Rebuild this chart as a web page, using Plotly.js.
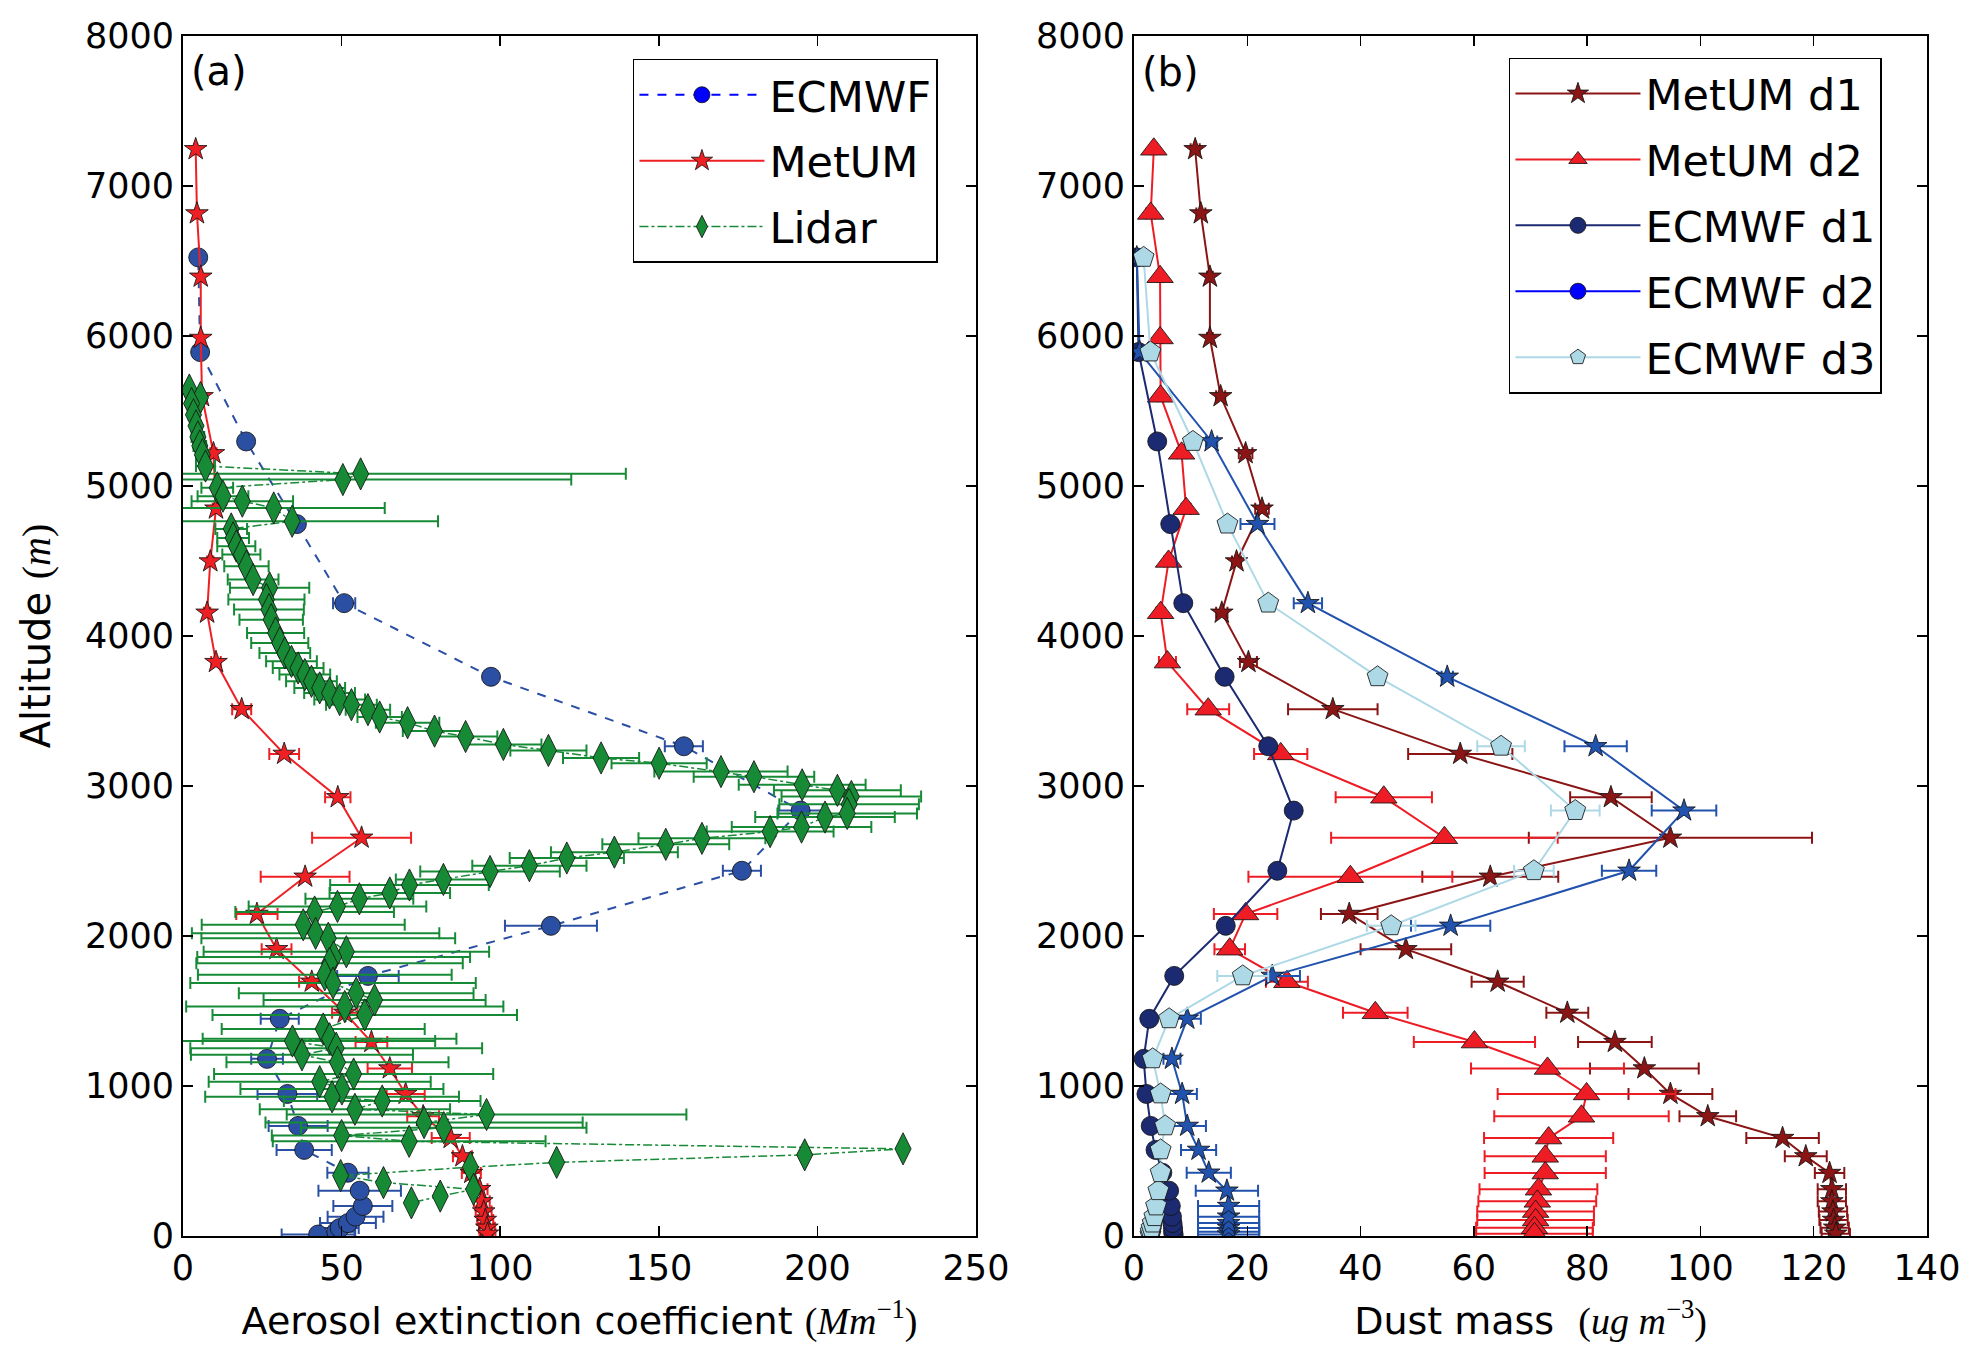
<!DOCTYPE html>
<html>
<head>
<meta charset="utf-8">
<script src="https://cdn.plot.ly/plotly-3.0.1.min.js"></script>
<style>body{margin:0;background:#fff}</style>
</head>
<body>
<div id="chart"></div>
<script>
// ---- shared model levels (m) ----
const metumAlt = [7245, 6817, 6395, 5987, 5598, 5218, 4849, 4497, 4155, 3826, 3512, 3214, 2925, 2655, 2395, 2147,
  1912, 1695, 1488, 1293, 1117, 947, 798, 653, 531, 420, 312, 231, 163, 107, 55, 15];
const ecmwfAlt = [10, 29, 53, 86, 129, 200, 302, 422, 574, 734, 947, 1181, 1448, 1734, 2068, 2435, 2836, 3265,
  3728, 4219, 4746, 5297, 5893, 6524];

// ---- (a) aerosol extinction coefficient (Mm-1) ----
const ecmwfExt = [42.6, 48.3, 49.4, 52.0, 54.4, 56.7, 55.7, 52.0, 38.2, 36.3, 32.9, 26.5, 30.5, 58.3, 116.0, 176.2,
  194.7, 157.9, 97.1, 50.8, 35.9, 19.9, 5.4, 4.8];
const ecmwfExtErr = [11.5, 6, 6, 8.8, 8.8, 9.3, 13, 6.5, 8.7, 9.3, 9.4, 5, 6, 9.7, 14.5, 6, 7, 6, 1.5, 3.5, 2, 1, 0.5, 0.5];

const metumExt = [4.0, 4.4, 5.6, 5.6, 6.0, 9.6, 10.4, 8.6, 7.6, 10.4, 18.5, 31.9, 48.8, 56.3, 38.5, 23.3,
  29.5, 40.6, 51.0, 59.4, 65.2, 70.2, 75.7, 84.4, 88.1, 90.9, 93.5, 94.2, 94.8, 95.3, 95.8, 96.0];
const metumExtErr = [0.5, 0.5, 0.5, 0.5, 0.5, 1, 1, 1, 1, 1.5, 3, 4.7, 4, 15.6, 14, 6.5,
  4.7, 4, 4, 5, 7, 6, 5, 6, 3, 3, 2.5, 2.5, 2.5, 2.5, 2.5, 2.5];

const lidarAlt = [5640, 5590, 5550, 5475, 5401, 5327, 5267, 5208, 5133, 5081, 5043, 4988, 4932, 4899, 4854, 4765,
  4714, 4654, 4599, 4543, 4465, 4376, 4321, 4243, 4176, 4109, 4020, 3954, 3887, 3831, 3787, 3743, 3698, 3654,
  3620, 3576, 3542, 3509, 3460, 3422, 3366, 3330, 3277, 3237, 3187, 3152, 3096, 3062, 3008, 2971, 2930, 2878,
  2817, 2793, 2726, 2696, 2651, 2611, 2559, 2520, 2469, 2430, 2377, 2340, 2287, 2248, 2197, 2160, 2075, 2018,
  1985, 1895, 1860, 1819, 1741, 1686, 1619, 1574, 1530, 1474, 1380, 1315, 1300, 1252, 1208, 1158, 1080, 1029,
  980, 928, 900, 845, 810, 756, 722, 670, 631, 581, 541, 491, 459, 403, 356, 311, 266, 221];
const lidarExt = [2.0, 5.5, 2.7, 3.3, 4.1, 4.7, 5.3, 6.1, 7.1, 56.0, 50.4, 10.8, 12.6, 18.7, 28.6, 34.4,
  15.2, 15.8, 16.8, 18.4, 20.0, 22.1, 27.3, 26.3, 27.1, 27.8, 29.2, 30.5, 32.1, 34.2, 36.3, 38.4, 40.5, 43.1,
  46.2, 49.4, 53.1, 58.3, 62.0, 70.8, 79.3, 89.1, 101.0, 115.2, 131.8, 150.1, 169.6, 180.0, 195.2, 206.3, 210.7, 210.0,
  209.4, 202.4, 195.0, 185.1, 163.6, 152.2, 136.0, 121.0, 109.2, 96.8, 82.1, 71.4, 65.2, 55.6, 48.7, 41.5, 37.9, 41.8,
  45.8, 51.5, 47.5, 46.2, 44.7, 47.3, 54.6, 60.4, 51.0, 57.3, 44.2, 46.2, 34.5, 48.3, 37.5, 48.7, 53.8, 43.1,
  50.1, 47.0, 62.8, 54.2, 95.7, 76.0, 82.2, 50.0, 71.3, 227.0, 196.0, 117.8, 90.6, 49.7, 63.2, 91.6, 81.1, 72.0];
const lidarExtErr = [1, 1, 1, 1.5, 1.5, 2, 2, 2, 3, 83.6, 72, 5, 8, 16, 35, 46,
  5, 5, 6, 6, 7, 8, 12.5, 12, 11, 10, 9, 9, 8, 8, 8, 8, 8, 8,
  8, 8, 8, 7, 7, 10, 10, 10, 12, 12, 12, 15, 21, 19, 20, 20, 22, 22,
  22, 22, 22, 20, 20, 20, 20, 18, 18, 22, 15, 25, 19, 17, 28, 25, 32, 39,
  40, 45, 43, 42, 40, 45, 37, 35, 50, 48, 32, 40, 45, 46, 35, 35, 44, 35,
  32, 40, 31, 30, 63, 50, 45, 22, 43, 0, 0, 0, 0, 0, 0, 0, 0, 0];

// ---- (b) dust mass (ug m-3) ----
const metumD1 = [10.8, 11.8, 13.4, 13.4, 15.3, 19.7, 22.6, 18.1, 15.5, 20.2, 35.1, 57.6, 84.2, 94.7, 62.9, 38.0,
  48.0, 64.2, 76.5, 84.9, 90.1, 94.7, 101.3, 114.5, 118.6, 122.8, 123.2, 123.2, 123.4, 123.5, 123.7, 123.9];
const metumD1Err = [0.8, 0.8, 0.5, 0.5, 0.8, 1.2, 1.2, 0.8, 1, 1.5, 7.9, 9.2, 7.2, 25, 12, 5,
  8, 4.6, 3.7, 6.5, 9.6, 7.4, 5, 6.4, 3.7, 2.6, 2.5, 2.5, 2.5, 2.5, 2.5, 2.5];
const metumD2 = [3.5, 2.95, 4.6, 4.6, 4.7, 8.4, 9.2, 6.1, 4.7, 5.9, 13.1, 25.9, 44.1, 54.8, 38.2, 19.7,
  16.9, 27.0, 42.6, 60.1, 73.0, 79.9, 79.0, 73.2, 72.6, 72.6, 71.4, 71.2, 70.9, 70.9, 70.7, 70.7];
const metumD2Err = [0.5, 0.8, 0.5, 0.5, 0.5, 0.8, 0.8, 0.8, 0.8, 1.5, 3.7, 4.7, 8.5, 20, 18, 5.6,
  2.7, 3.7, 5.7, 10.7, 13.5, 15.7, 15.4, 11.4, 10.7, 10.7, 10.4, 10.4, 10.3, 10.3, 10.3, 10.3];
const ecmwfD1 = [7.0, 6.9, 6.9, 6.8, 6.7, 6.5, 6.2, 5.0, 3.8, 2.95, 2.2, 1.7, 2.7, 7.1, 16.2, 25.3,
  28.2, 23.7, 16.0, 8.7, 6.4, 4.1, 0.8, 0.5];
const ecmwfD1Err = ecmwfAlt.map(() => 0.4);
const ecmwfD2 = [16.7, 16.7, 16.7, 16.7, 16.7, 16.7, 16.4, 13.2, 11.4, 9.4, 8.5, 6.7, 9.4, 24.4, 55.9, 87.4,
  97.1, 81.5, 55.3, 30.7, 21.8, 13.7, 1.0, 0.5];
const ecmwfD2Err = [5.4, 5.4, 5.4, 5.4, 5.4, 5.4, 5.5, 3.9, 3.1, 3.3, 2.6, 1.5, 2.4, 4.9, 7, 4.8,
  5.7, 5.5, 1, 2.5, 3, 1, 0.3, 0.3];
const ecmwfD3 = [2.9, 2.95, 3.1, 3.3, 3.6, 3.9, 4.3, 4.7, 4.7, 5.5, 4.7, 3.3, 6.2, 19.2, 45.4, 70.6,
  77.9, 64.8, 43.0, 23.7, 16.5, 10.4, 2.9, 1.7];
const ecmwfD3Err = [0.3, 0.3, 0.3, 0.3, 0.3, 0.3, 0.4, 0.5, 0.5, 0.5, 0.5, 0.5, 1, 4.5, 4.3, 3.5,
  4.3, 4.2, 1, 1, 1, 1, 0.3, 0.3];

const EDGE = "rgba(20,20,20,0.85)";

function profile(name, x, y, err, opts) {
  return {
    type: "scatter",
    mode: "lines+markers",
    name: name,
    legendgroup: opts.group || name,
    x: x,
    y: y,
    xaxis: opts.panel === "b" ? "x2" : "x",
    yaxis: opts.panel === "b" ? "y2" : "y",
    legend: opts.panel === "b" ? "legend2" : "legend",
    showlegend: opts.showlegend !== false,
    line: { color: opts.color, width: opts.lineWidth || 2, dash: opts.dash || "solid" },
    marker: {
      symbol: opts.symbol,
      size: opts.size,
      color: opts.color,
      line: { color: EDGE, width: 1 },
    },
    error_x: { type: "data", array: err, color: opts.errColor || opts.color, thickness: 2, width: 6 },
  };
}

// legend-only stand-in (the legend marker differs from the plotted one)
function legendProxy(name, panel, color, symbol, size, dash) {
  return {
    type: "scatter",
    mode: "lines+markers",
    name: name,
    legendgroup: name,
    x: [null],
    y: [null],
    xaxis: panel === "b" ? "x2" : "x",
    yaxis: panel === "b" ? "y2" : "y",
    legend: panel === "b" ? "legend2" : "legend",
    line: { color: color, width: 2, dash: dash || "solid" },
    marker: { symbol: symbol, size: size, color: color, line: { color: EDGE, width: 1 } },
    hoverinfo: "skip",
  };
}

const traces = [
  legendProxy("ECMWF", "a", "#0000ff", "circle", 20, "dash"),
  profile("ECMWF", ecmwfExt, ecmwfAlt, ecmwfExtErr,
    { panel: "a", color: "#2b50a3", symbol: "circle", size: 19, dash: "dash", showlegend: false }),
  profile("MetUM", metumExt, metumAlt, metumExtErr,
    { panel: "a", color: "#ee2024", symbol: "star", size: 17 }),
  profile("Lidar", lidarExt, lidarAlt, lidarExtErr,
    { panel: "a", color: "#178a36", symbol: "diamond-tall", size: 23, dash: "dashdot", lineWidth: 1.5 }),

  profile("MetUM d1", metumD1, metumAlt, metumD1Err,
    { panel: "b", color: "#8b1414", symbol: "star", size: 17 }),
  profile("MetUM d2", metumD2, metumAlt, metumD2Err,
    { panel: "b", color: "#ee1c24", symbol: "triangle-up", size: 23 }),
  profile("ECMWF d1", ecmwfD1, ecmwfAlt, ecmwfD1Err,
    { panel: "b", color: "#1c2a72", symbol: "circle", size: 19 }),
  legendProxy("ECMWF d2", "b", "#0000ff", "circle", 20),
  profile("ECMWF d2", ecmwfD2, ecmwfAlt, ecmwfD2Err,
    { panel: "b", color: "#2152ad", symbol: "star", size: 17, showlegend: false }),
  profile("ECMWF d3", ecmwfD3, ecmwfAlt, ecmwfD3Err,
    { panel: "b", color: "#add8e6", symbol: "pentagon", size: 22 }),
];

const MATH = "font-family:'Liberation Serif'";

function axis(extra) {
  return Object.assign({
    showline: true,
    linecolor: "black",
    linewidth: 2,
    mirror: "allticks",
    ticks: "inside",
    ticklen: 10,
    tickwidth: 1.5,
    tickcolor: "black",
    showgrid: false,
    zeroline: false,
    tickfont: { size: 35 },
  }, extra);
}

const legendStyle = {
  bgcolor: "white",
  bordercolor: "black",
  borderwidth: 1.5,
  font: { size: 43 },
  itemwidth: 125,
  xanchor: "left",
  yanchor: "top",
  tracegroupgap: 7,
};

const layout = {
  width: 1980,
  height: 1363,
  margin: { l: 183, r: 53, t: 36, b: 127 },
  paper_bgcolor: "white",
  plot_bgcolor: "white",
  font: { family: "DejaVu Sans", size: 35, color: "black" },
  xaxis: axis({
    domain: [0, 0.4547], anchor: "y", range: [0, 250], dtick: 50,
    title: {
      text: "Aerosol extinction coefficient <span style=\"" + MATH + "\">(<i>Mm</i><sup>\u22121</sup>)</span>",
      font: { size: 38 }, standoff: 20,
    },
  }),
  yaxis: axis({
    domain: [0, 1], anchor: "x", range: [0, 8000], dtick: 1000,
    title: { text: "Altitude <span style=\"" + MATH + "\">(<i>m</i>)</span>", font: { size: 40 }, standoff: 22 },
  }),
  xaxis2: axis({
    domain: [0.5453, 1], anchor: "y2", range: [0, 140], dtick: 20,
    title: {
      text: "Dust mass &nbsp;<span style=\"" + MATH + "\">(<i>ug m</i><sup>\u22123</sup>)</span>",
      font: { size: 38 }, standoff: 20,
    },
  }),
  yaxis2: axis({ domain: [0, 1], anchor: "x2", range: [0, 8000], dtick: 1000 }),
  legend: Object.assign({ x: 0.258, y: 0.981 }, legendStyle),
  legend2: Object.assign({ x: 0.7603, y: 0.982 }, legendStyle),
  annotations: [
    { text: "(a)", xref: "paper", yref: "paper", x: 0.0206, y: 0.9708, xanchor: "center", yanchor: "middle",
      showarrow: false, font: { size: 40 } },
    { text: "(b)", xref: "paper", yref: "paper", x: 0.5665, y: 0.9700, xanchor: "center", yanchor: "middle",
      showarrow: false, font: { size: 40 } },
  ],
};

Plotly.newPlot("chart", traces, layout, { displayModeBar: false, staticPlot: true });
</script>
</body>
</html>
